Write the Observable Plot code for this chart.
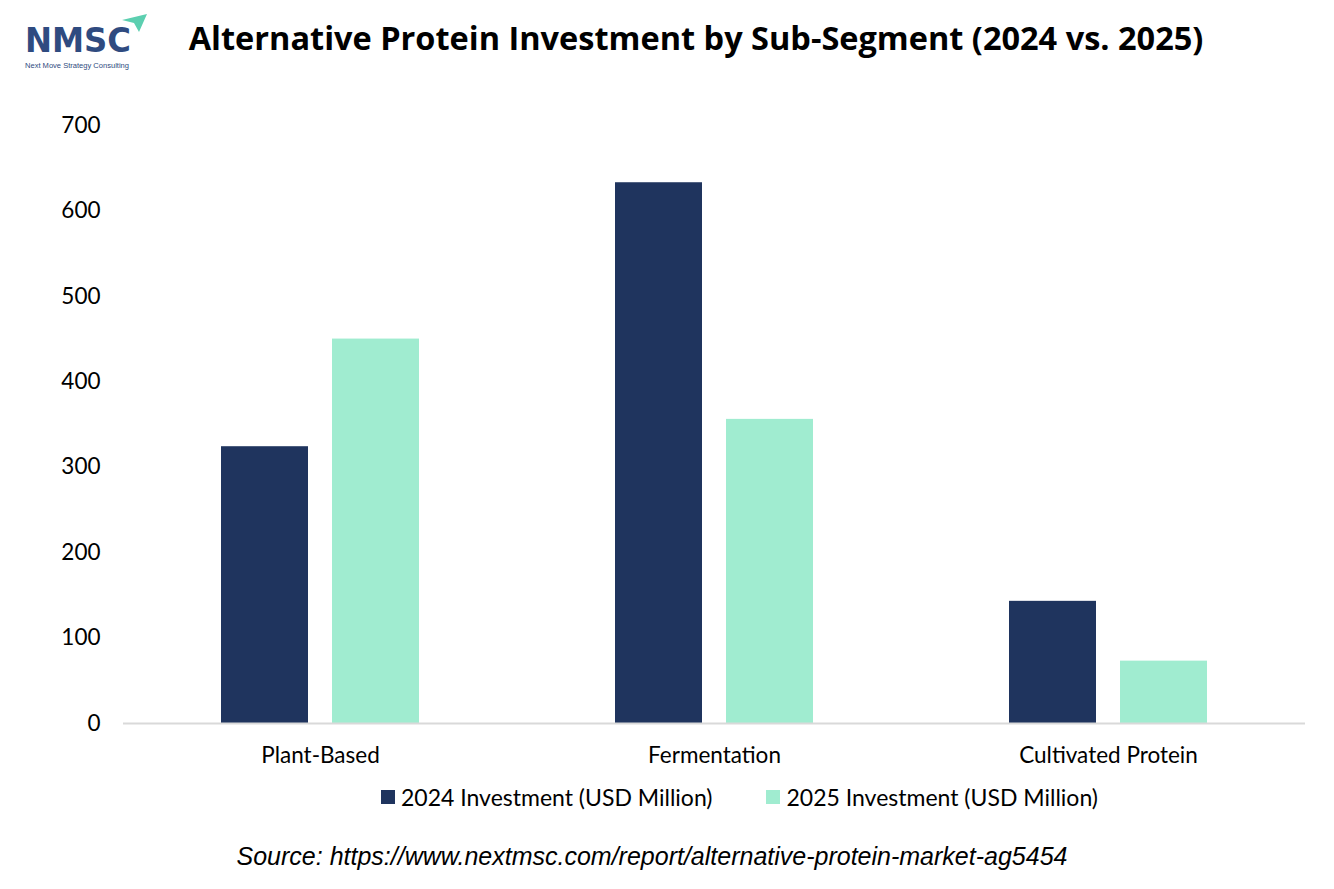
<!DOCTYPE html>
<html>
<head>
<meta charset="utf-8">
<script src="https://cdn.jsdelivr.net/npm/d3@7"></script>
<script src="https://cdn.jsdelivr.net/npm/@observablehq/plot@0.6"></script>
<style>
  html, body { margin: 0; padding: 0; background: #fff; }
  #page { position: relative; width: 1334px; height: 889px; overflow: hidden; }
  #logo { position: absolute; left: 22px; top: 12px; width: 130px; height: 60px; }
  #title { position: absolute; left: 0; width: 1334px; top: 15px; text-align: center;
    font-family: "Open Sans", sans-serif; font-weight: 700; font-size: 32.5px; color: #000; margin-left: 29px; }
  #chart { position: absolute; left: 0; top: 90px; }
  #legend { position: absolute; top: 783px; left: 381px; display: flex; align-items: center;
    font-family: Lato, sans-serif; font-size: 23px; color: #000; }
  .sw { display: inline-block; width: 14px; height: 14px; margin-right: 6px; }
  .item { display: flex; align-items: center; margin-right: 54px; }
  #source { position: absolute; top: 842px; left: 0; width: 1334px; text-align: center; margin-left: -15px;
    font-family: "Liberation Sans", Arial, sans-serif; font-style: italic; font-size: 25px; color: #000; }
</style>
</head>
<body>
<div id="page">
  <svg id="logo" viewBox="0 0 130 60">
    <text x="3" y="40" font-family="'DejaVu Sans', sans-serif" font-weight="700" font-size="33" fill="#2F4B80" textLength="106" lengthAdjust="spacingAndGlyphs">NMSC</text>
    <polygon points="100,8 125,2 117,20 112,11" fill="#5CCFB0"/>
    <text x="3" y="55.5" font-family="'Liberation Sans', Arial, sans-serif" font-size="8" fill="#2F4B80" textLength="104" lengthAdjust="spacingAndGlyphs">Next Move Strategy Consulting</text>
  </svg>
  <div id="title">Alternative Protein Investment by Sub-Segment (2024 vs. 2025)</div>
  <div id="chart"></div>
  <div id="legend"></div>
  <div id="source">Source: https://www.nextmsc.com/report/alternative-protein-market-ag5454</div>
</div>
<script>
const categories = ["Plant-Based", "Fermentation", "Cultivated Protein"];
const seriesNames = ["2024 Investment (USD Million)", "2025 Investment (USD Million)"];
const values2024 = [324, 633, 143];
const values2025 = [450, 356, 73];
const yTicks = [0, 100, 200, 300, 400, 500, 600, 700];
const colors = ["#1F345E", "#A0ECD0"];

const table = [];
categories.forEach((c, i) => {
  table.push({category: c, series: seriesNames[0], value: values2024[i]});
  table.push({category: c, series: seriesNames[1], value: values2025[i]});
});

const chart = Plot.plot({
  width: 1334,
  height: 685,
  marginLeft: 123,
  marginRight: 29,
  marginTop: 35,
  marginBottom: 52,
  style: {fontFamily: "Lato, sans-serif", fontSize: "22.5px", color: "#000", background: "transparent"},
  fx: {domain: categories, padding: 0, label: null, axis: "bottom", tickSize: 0, tickPadding: 24},
  x: {domain: seriesNames, axis: null, paddingInner: 0.214, paddingOuter: 0.866},
  y: {domain: [0, 700], ticks: yTicks, tickSize: 0, tickPadding: 23, label: null},
  color: {domain: seriesNames, range: colors},
  marks: [
    Plot.barY(table, {fx: "category", x: "series", y: "value", fill: "series"}),
    Plot.ruleY([0], {stroke: "#d9d9d9", strokeWidth: 2})
  ]
});
document.getElementById("chart").appendChild(chart);

const legend = document.getElementById("legend");
seriesNames.forEach((s, i) => {
  const item = document.createElement("span");
  item.className = "item";
  const sw = document.createElement("span");
  sw.className = "sw";
  sw.style.background = colors[i];
  item.appendChild(sw);
  item.appendChild(document.createTextNode(s));
  legend.appendChild(item);
});
</script>
</body>
</html>
